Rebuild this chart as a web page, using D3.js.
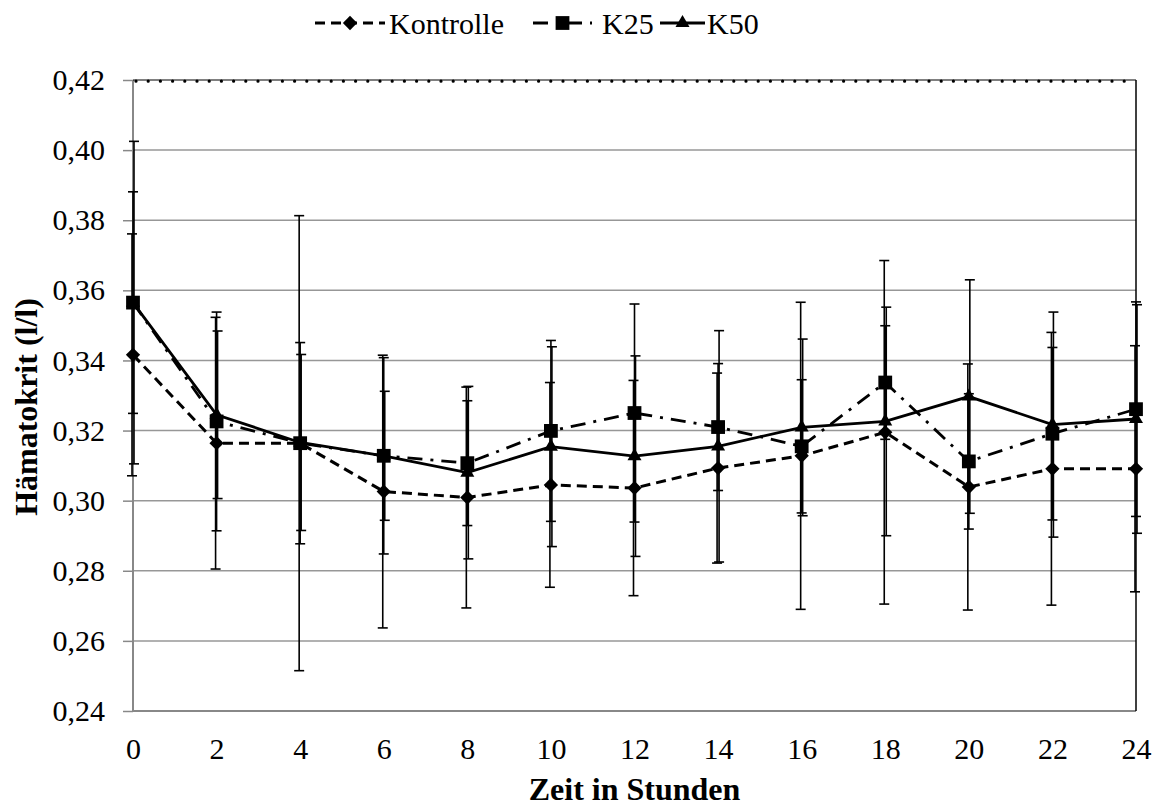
<!DOCTYPE html>
<html>
<head>
<meta charset="utf-8">
<script src="https://cdn.jsdelivr.net/npm/d3@7"></script>
<style>
  body { margin: 0; background: #fff; }
</style>
</head>
<body>
<div id="chart"></div>
<script>
// data (hours, mean and standard deviation)
var hours = [0, 2, 4, 6, 8, 10, 12, 14, 16, 18, 20, 22, 24];
var kontrolle   = [0.3416, 0.3164, 0.3164, 0.3026, 0.3009, 0.3045, 0.3036, 0.3093, 0.3128, 0.3195, 0.3039, 0.3091, 0.3091];
var kontrolleSd = [0.0345, 0.0359, 0.0649, 0.0389, 0.0315, 0.0292, 0.0307, 0.0271, 0.0438, 0.0490, 0.0351, 0.0389, 0.0351];
var k25   = [0.3565, 0.3226, 0.3164, 0.3128, 0.3107, 0.3199, 0.3250, 0.3210, 0.3155, 0.3337, 0.3112, 0.3191, 0.3261];
var k25Sd = [0.0316, 0.0312, 0.0287, 0.0280, 0.0178, 0.0258, 0.0311, 0.0181, 0.0190, 0.0162, 0.0193, 0.0246, 0.0306];
var k50   = [0.3565, 0.3245, 0.3166, 0.3128, 0.3080, 0.3154, 0.3127, 0.3155, 0.3209, 0.3226, 0.3297, 0.3217, 0.3233];
var k50Sd = [0.0460, 0.0239, 0.0251, 0.0184, 0.0246, 0.0285, 0.0286, 0.0330, 0.0252, 0.0326, 0.0333, 0.0321, 0.0326];
var yTicks = [0.24, 0.26, 0.28, 0.30, 0.32, 0.34, 0.36, 0.38, 0.40, 0.42];
var xTicks = [0, 2, 4, 6, 8, 10, 12, 14, 16, 18, 20, 22, 24];

var serif = "'Liberation Serif', 'Times New Roman', serif";

var series = [
  {name: "Kontrolle", values: kontrolle, sd: kontrolleSd, dash: "10,6", width: 3, symbol: d3.symbolDiamond2, size: 130, off: -1},
  {name: "K25", values: k25, sd: k25Sd, dash: "15,8,3,8", width: 2.8, symbol: d3.symbolSquare, size: 190, off: 0},
  {name: "K50", values: k50, sd: k50Sd, dash: null, width: 2.8, symbol: d3.symbolTriangle, size: 85, off: 1}
];

var W = 1159, H = 807;
var margin = {top: 80, right: 23, bottom: 96, left: 133},
    width = W - margin.left - margin.right,
    height = H - margin.top - margin.bottom;

var root = d3.select("#chart").append("svg")
    .attr("width", W)
    .attr("height", H);

var svg = root.append("g")
    .attr("transform", "translate(" + margin.left + "," + margin.top + ")");

var x = d3.scaleLinear().domain([0, 24]).range([0, width]);
var y = d3.scaleLinear().domain([0.24, 0.42]).range([height, 0]);
var fmt = function(d) { return d3.format(".2f")(d).replace(".", ","); };

// gridlines
svg.append("g")
  .selectAll("line")
  .data(yTicks.filter(function(d) { return d > 0.24 && d < 0.42; }))
  .enter().append("line")
    .attr("x1", 0).attr("x2", width)
    .attr("y1", function(d) { return y(d); })
    .attr("y2", function(d) { return y(d); })
    .attr("stroke", "#979797")
    .attr("stroke-width", 1.5);

// y axis
var yAxis = d3.axisLeft(y).tickValues(yTicks).tickFormat(fmt).tickSize(10).tickPadding(18);
var ya = svg.append("g").attr("class", "y axis").call(yAxis);
ya.attr("font-family", serif).attr("font-size", 30);
ya.select(".domain").remove();
ya.selectAll(".tick line").attr("stroke", "#888").attr("stroke-width", 1.5);
ya.selectAll("text").attr("fill", "#000");

// x axis labels
var xAxis = d3.axisBottom(x).tickValues(xTicks).tickSize(0).tickPadding(27);
var xa = svg.append("g").attr("class", "x axis")
    .attr("transform", "translate(0," + height + ")")
    .call(xAxis);
xa.attr("font-family", serif).attr("font-size", 30);
xa.select(".domain").remove();
xa.selectAll("text").attr("fill", "#000");

// frame: gray left & bottom, black right, dotted top
svg.append("line").attr("x1", 0).attr("x2", 0).attr("y1", 0).attr("y2", height)
    .attr("stroke", "#888").attr("stroke-width", 2);
svg.append("line").attr("x1", 0).attr("x2", width).attr("y1", height).attr("y2", height)
    .attr("stroke", "#888").attr("stroke-width", 2);
svg.append("line").attr("x1", width).attr("x2", width).attr("y1", 0).attr("y2", height)
    .attr("stroke", "#000").attr("stroke-width", 1.5);
svg.append("line").attr("x1", 0).attr("x2", width).attr("y1", 0).attr("y2", 0)
    .attr("stroke", "#000").attr("stroke-width", 1);
svg.append("line").attr("x1", 3).attr("x2", width).attr("y1", 1.2).attr("y2", 1.2)
    .attr("stroke", "#000").attr("stroke-width", 3.2)
    .attr("stroke-linecap", "round")
    .attr("stroke-dasharray", "0,12.2");

// error bars
series.forEach(function(s) {
  var g = svg.append("g").attr("class", "err");
  var cap = 5;
  hours.forEach(function(h, i) {
    var cx = x(h) + s.off,
        lo = y(s.values[i] - s.sd[i]),
        hi = y(s.values[i] + s.sd[i]);
    g.append("line").attr("x1", cx).attr("x2", cx).attr("y1", lo).attr("y2", hi)
      .attr("stroke", "#000").attr("stroke-width", 1.6);
    g.append("line").attr("x1", cx - cap).attr("x2", cx + cap).attr("y1", lo).attr("y2", lo)
      .attr("stroke", "#000").attr("stroke-width", 1.6);
    g.append("line").attr("x1", cx - cap).attr("x2", cx + cap).attr("y1", hi).attr("y2", hi)
      .attr("stroke", "#000").attr("stroke-width", 1.6);
  });
});

// lines + markers
var line = d3.line()
    .x(function(d) { return x(d[0]); })
    .y(function(d) { return y(d[1]); });

series.forEach(function(s) {
  var pts = hours.map(function(h, i) { return [h, s.values[i]]; });
  svg.append("path")
    .datum(pts)
    .attr("fill", "none")
    .attr("stroke", "#000")
    .attr("stroke-width", s.width)
    .attr("stroke-dasharray", s.dash)
    .attr("d", line);
  svg.selectAll(".m-" + s.name)
    .data(pts)
    .enter().append("path")
      .attr("transform", function(d) { return "translate(" + x(d[0]) + "," + y(d[1]) + ")"; })
      .attr("d", d3.symbol().type(s.symbol).size(s.size))
      .attr("fill", "#000");
});

// legend
var legend = root.append("g").attr("class", "legend")
    .attr("font-family", serif).attr("font-size", 30);
var legendItems = [
  {s: series[0], x1: 315, x2: 385, tx: 389},
  {s: series[1], x1: 533, x2: 592, tx: 602},
  {s: series[2], x1: 660, x2: 705, tx: 707}
];
legendItems.forEach(function(it) {
  var ly = 23;
  legend.append("line")
    .attr("x1", it.x1).attr("x2", it.x2).attr("y1", ly).attr("y2", ly)
    .attr("stroke", "#000").attr("stroke-width", it.s.width)
    .attr("stroke-dasharray", it.s.dash);
  legend.append("path")
    .attr("transform", "translate(" + ((it.x1 + it.x2) / 2) + "," + ly + ")")
    .attr("d", d3.symbol().type(it.s.symbol).size(it.s.size))
    .attr("fill", "#000");
  legend.append("text")
    .attr("x", it.tx).attr("y", 34)
    .text(it.s.name);
});

// axis titles
root.append("text")
    .attr("transform", "translate(37,407) rotate(-90)")
    .attr("text-anchor", "middle")
    .attr("font-family", serif)
    .attr("font-size", 32)
    .attr("font-weight", "bold")
    .text("Hämatokrit  (l/l)");

root.append("text")
    .attr("x", margin.left + width / 2)
    .attr("y", 800)
    .attr("text-anchor", "middle")
    .attr("font-family", serif)
    .attr("font-size", 32)
    .attr("font-weight", "bold")
    .text("Zeit in Stunden");
</script>
</body>
</html>
